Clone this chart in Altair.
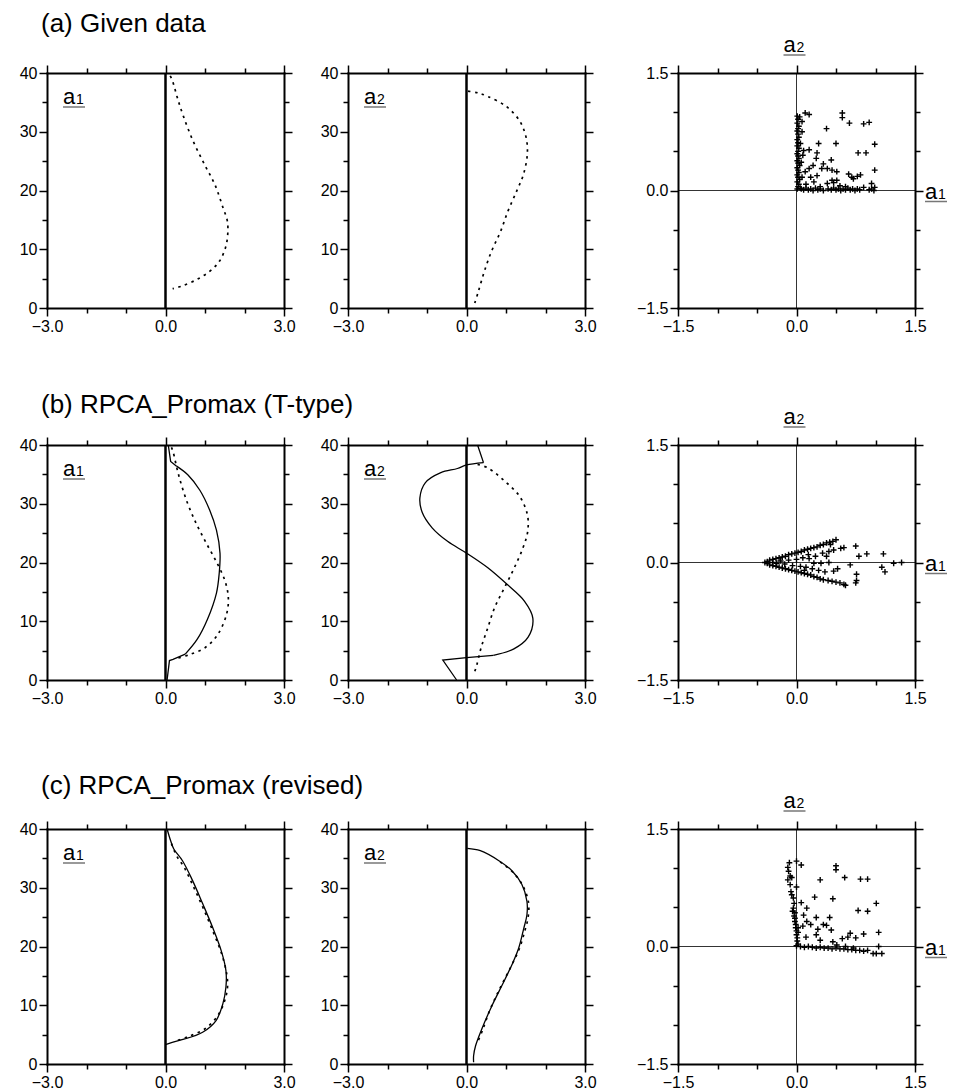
import altair as alt
import pandas as pd

FONT = "Liberation Sans"
W, H = 237, 235

# ---------------- vertical profiles (x = loading, y = level) ----------------
# (a) Given data
GIVEN_A1_X = [0.12, 0.18, 0.30, 0.45, 0.70, 0.99, 1.25, 1.46, 1.56, 1.58, 1.54, 1.37, 1.12, 0.78, 0.40, 0.18]
GIVEN_A1_Y = [39.5, 38.6, 35.8, 32.7, 28.4, 24.4, 21.0, 17.0, 15.0, 13.6, 10.8, 8.0, 6.25, 4.8, 3.7, 3.3]
GIVEN_A2_X = [0.04, 0.30, 0.54, 1.01, 1.35, 1.51, 1.54, 1.44, 1.27, 1.05, 0.86, 0.63, 0.45, 0.30, 0.21]
GIVEN_A2_Y = [36.9, 36.6, 36.0, 34.3, 31.8, 29.0, 26.2, 22.7, 19.9, 16.5, 13.0, 9.6, 6.2, 2.8, 0.85]

# (b) RPCA_Promax (T-type): solid = rotated, dotted = given
TT_A1_TOP_X = [0.07, 0.13, 0.28]
TT_A1_TOP_Y = [40.0, 37.2, 36.4]
TT_A1_MID_X = [0.28, 0.57, 0.87, 1.12, 1.29, 1.38, 1.36, 1.29, 1.06, 0.80, 0.50]
TT_A1_MID_Y = [36.4, 34.9, 32.3, 28.9, 25.5, 21.6, 18.2, 14.8, 10.3, 6.9, 4.4]
TT_A1_BOT_X = [0.50, 0.19, 0.10, 0.04]
TT_A1_BOT_Y = [4.4, 3.5, 3.3, 0.0]
TT_A1_DOT_X = [0.15, 0.19, 0.32, 0.53, 0.78, 1.04, 1.29, 1.50, 1.59, 1.55, 1.32, 1.00, 0.60, 0.30]
TT_A1_DOT_Y = [39.6, 38.9, 35.2, 30.6, 26.6, 23.2, 20.1, 17.0, 14.1, 11.3, 7.7, 5.5, 4.3, 3.7]

TT_A2_TOP_X = [0.28, 0.43]
TT_A2_TOP_Y = [40.0, 37.0]
TT_A2_MID_X = [0.43, 0.0, -0.23, -0.65, -1.04, -1.18, -1.12, -0.87, -0.48, 0.0, 0.54, 1.04, 1.47, 1.68, 1.56, 1.20, 0.68]
TT_A2_MID_Y = [37.0, 36.6, 36.0, 35.3, 33.6, 31.0, 28.5, 25.9, 23.6, 21.6, 19.1, 16.2, 13.4, 10.5, 7.3, 5.3, 4.2]
TT_A2_BOT_X = [0.68, 0.0, -0.60, -0.25]
TT_A2_BOT_Y = [4.2, 3.8, 3.4, 0.0]
TT_A2_DOT_X = [0.28, 0.54, 0.96, 1.34, 1.54, 1.55, 1.43, 1.21, 0.96, 0.71, 0.54, 0.37, 0.25, 0.18]
TT_A2_DOT_Y = [36.7, 36.1, 33.9, 31.3, 28.2, 25.3, 22.5, 19.1, 15.7, 12.3, 8.9, 5.5, 2.3, 0.9]

# (c) RPCA_Promax (revised)
RV_A1_X = [0.04, 0.13, 0.21, 0.43, 0.68, 0.94, 1.19, 1.41, 1.53, 1.53, 1.45, 1.28, 0.94, 0.51]
RV_A1_Y = [40.0, 38.0, 36.6, 34.6, 31.3, 27.3, 23.3, 19.3, 15.9, 13.1, 10.2, 7.4, 5.4, 4.3]
RV_A1_BOT_X = [0.51, 0.17, 0.0]
RV_A1_BOT_Y = [4.3, 3.7, 3.3]
RV_A1_DOT_X = [0.15, 0.30, 0.47, 0.70, 0.95, 1.20, 1.42, 1.55, 1.57, 1.49, 1.32, 1.00, 0.55, 0.20]
RV_A1_DOT_Y = [37.5, 35.2, 33.5, 30.3, 26.6, 22.6, 18.8, 15.3, 13.1, 10.6, 8.2, 6.0, 4.6, 3.8]

RV_A2_X = [0.02, 0.35, 0.82, 1.15, 1.40, 1.53, 1.53, 1.45, 1.32, 1.15, 0.90, 0.65, 0.39, 0.23, 0.18, 0.18]
RV_A2_Y = [36.7, 36.3, 34.6, 32.9, 30.6, 27.7, 25.4, 23.1, 19.7, 16.9, 13.4, 10.0, 6.0, 3.1, 1.4, 0.3]
RV_A2_DOT_X = [0.85, 1.18, 1.43, 1.57, 1.56, 1.47, 1.33, 1.12, 0.90, 0.74, 0.58, 0.42, 0.30]
RV_A2_DOT_Y = [34.4, 32.6, 30.3, 27.5, 25.0, 22.5, 19.5, 16.5, 13.6, 11.4, 9.0, 6.0, 4.0]

# ---------------- scatter of (a1, a2) ----------------
SC_GIVEN_X = [0.01, 0.02, 0.01, 0.03, 0.02, 0.01, 0.02, 0.03, 0.01, 0.02, 0.01, 0.03, 0.02, 0.01, 0.02,
              0.03, 0.01, 0.02, 0.04, 0.01, 0.02, 0.03, 0.01, 0.02, 0.04, 0.01, 0.03, 0.02, 0.05, 0.01,
              0.11, 0.16, 0.04, 0.58, 0.58, 0.67, 0.85, 0.92, 0.38, 0.07, 0.28, 0.50, 0.99, 0.09, 0.16,
              0.26, 0.78, 0.88, 0.25, 0.44, 0.34, 0.21, 0.16, 0.32, 0.39, 0.45, 0.51, 0.11, 0.07, 0.18,
              0.26, 0.66, 0.70, 0.77, 0.81, 0.99, 0.45, 0.51, 0.72, 0.22, 0.39, 0.55, 0.95, 0.06, 0.08,
              0.05, 0.07, 0.12, 0.30, 0.47, 0.62, 0.85,
              0.06, 0.09, 0.12, 0.15, 0.18, 0.21, 0.24, 0.27, 0.30, 0.34, 0.40, 0.44, 0.47, 0.50, 0.53,
              0.56, 0.59, 0.62, 0.65, 0.68, 0.71, 0.74, 0.77, 0.80, 0.92, 0.95, 0.98, 0.99]
SC_GIVEN_Y = [0.95, 0.91, 0.86, 0.82, 0.79, 0.76, 0.72, 0.68, 0.65, 0.61, 0.57, 0.54, 0.50, 0.47, 0.44,
              0.41, 0.38, 0.35, 0.32, 0.29, 0.26, 0.23, 0.20, 0.17, 0.14, 0.11, 0.08, 0.05, 0.03, 0.02,
              0.99, 0.97, 0.94, 0.99, 0.93, 0.86, 0.85, 0.87, 0.79, 0.75, 0.60, 0.60, 0.59, 0.51, 0.52,
              0.48, 0.48, 0.48, 0.41, 0.39, 0.34, 0.32, 0.28, 0.28, 0.28, 0.26, 0.24, 0.24, 0.17, 0.17,
              0.19, 0.21, 0.17, 0.18, 0.20, 0.26, 0.13, 0.13, 0.15, 0.11, 0.09, 0.06, 0.09, 0.36, 0.45,
              0.60, 0.88, 0.08, 0.05, 0.10, 0.05, 0.04,
              0.02, 0.01, 0.03, 0.01, 0.02, 0.00, 0.03, 0.01, 0.02, 0.00, 0.02, 0.01, 0.03, 0.01, 0.02,
              0.00, 0.02, 0.01, 0.03, 0.01, 0.02, 0.00, 0.02, 0.01, 0.01, 0.02, 0.00, 0.04]

SC_TTYPE_X = [-0.40, -0.37, -0.34, -0.30, -0.26, -0.22, -0.18, -0.14, -0.10, -0.06, -0.02, 0.02, 0.06, 0.10,
              0.14, 0.18, 0.22, 0.26, 0.30, 0.34, 0.38, 0.42, 0.46, 0.50,
              -0.37, -0.34, -0.30, -0.26, -0.22, -0.18, -0.14, -0.10, -0.06, -0.02, 0.02, 0.06, 0.10, 0.14,
              0.18, 0.22, 0.26, 0.30, 0.34, 0.40, 0.45, 0.50, 0.55, 0.60, 0.62, 0.75, 0.76,
              -0.30, -0.25, -0.20, -0.15, -0.10, -0.05, 0.00, 0.05, 0.08, 0.12, 0.16, 0.20, 0.22, 0.24,
              0.28, 0.31, 0.33, 0.36, 0.41, 0.41, 0.43, 0.47, 0.47, 0.56, 0.60, 0.68, 0.75, 0.76, 0.79,
              0.89, 1.08, 1.10, 1.12, 1.23, 1.33, 0.52, 0.38, 0.15, 0.10]
SC_TTYPE_Y = [0.00, 0.01, 0.03, 0.04, 0.05, 0.06, 0.07, 0.08, 0.10, 0.11, 0.12, 0.13, 0.14, 0.16,
              0.17, 0.18, 0.19, 0.20, 0.22, 0.23, 0.25, 0.26, 0.27, 0.29,
              -0.01, -0.03, -0.04, -0.05, -0.06, -0.07, -0.08, -0.09, -0.10, -0.11, -0.12, -0.13, -0.14, -0.15,
              -0.16, -0.18, -0.19, -0.21, -0.22, -0.23, -0.24, -0.25, -0.26, -0.28, -0.29, -0.26, -0.23,
              0.00, -0.01, 0.02, -0.02, 0.03, -0.04, 0.04, -0.05, 0.06, -0.06, 0.05, -0.08, -0.01, 0.08,
              -0.10, -0.01, 0.12, -0.12, 0.00, 0.14, 0.23, 0.16, -0.11, 0.18, 0.19, -0.03, 0.21, -0.15, 0.08,
              0.11, -0.06, 0.11, -0.12, -0.01, 0.00, -0.08, 0.08, 0.10, -0.10]

SC_REV_X = [-0.09, 0.00, 0.06, -0.11, -0.10, -0.08, -0.11, -0.06, -0.08, 0.00, -0.06, -0.04, -0.07, -0.04,
            -0.05, -0.02, -0.03, -0.02, -0.01, -0.01, 0.00, 0.00, 0.01, 0.01, 0.02, 0.00, -0.03, -0.02, 0.02,
            0.50, 0.50, 0.61, 0.30, 0.81, 0.90, 0.23, 0.46, 1.01, 0.78, 0.90, 0.13, 0.06, 0.25, 0.42,
            0.13, 0.34, 0.38, 0.08, 0.02, 0.44, 0.68, 0.75, 0.85, 1.04, 0.46, 0.51, 1.04, 0.18, 0.25,
            0.12, 0.30, 0.58, 0.65, 0.09, 0.27,
            0.05, 0.10, 0.15, 0.20, 0.25, 0.30, 0.35, 0.40, 0.45, 0.50, 0.55, 0.60, 0.65, 0.70, 0.75,
            0.80, 0.85, 0.90, 0.97, 1.01, 1.08, 0.62, 0.72]
SC_REV_Y = [1.07, 1.09, 1.04, 1.01, 0.96, 0.90, 0.85, 0.88, 0.79, 0.76, 0.66, 0.62, 0.70, 0.49,
            0.45, 0.43, 0.39, 0.32, 0.28, 0.24, 0.20, 0.15, 0.11, 0.07, 0.03, 0.01, 0.55, 0.36, 0.18,
            1.03, 0.98, 0.88, 0.85, 0.86, 0.86, 0.63, 0.61, 0.55, 0.46, 0.45, 0.49, 0.56, 0.37, 0.37,
            0.32, 0.28, 0.27, 0.26, 0.24, 0.21, 0.17, 0.11, 0.16, 0.18, 0.06, 0.02, 0.00, 0.28, 0.15,
            0.12, 0.08, 0.10, 0.12, 0.40, 0.22,
            0.00, -0.01, 0.00, -0.01, -0.02, -0.01, -0.02, -0.02, -0.03, -0.02, -0.03, -0.03, -0.04, -0.04, -0.05,
            -0.05, -0.06, -0.05, -0.09, -0.09, -0.09, 0.00, -0.02]

# ---------------- axes ----------------
PROF_X_TICKS = [-3, -2, -1, 0, 1, 2, 3]
PROF_Y_TICKS = [0, 5, 10, 15, 20, 25, 30, 35, 40]
SC_TICKS = [-1.5, -1.0, -0.5, 0.0, 0.5, 1.0, 1.5]

PX_MAJOR = "datum.value % 3 == 0"
PY_MAJOR = "datum.value % 10 == 0"
S_MAJOR = "datum.value == 0 || abs(datum.value) == 1.5"


def tick_size(test):
    return {"condition": {"test": test, "value": 8}, "value": 5}


def ax(orient, values, major, fmt_expr=None, offset=0):
    kw = dict(orient=orient, values=values, title=None, tickSize=tick_size(major),
              labelOverlap=False, labelFlush=False, offset=offset)
    if fmt_expr is None:
        kw["labels"] = False
    else:
        kw["labelExpr"] = f"{major} ? {fmt_expr} : ''"
    return alt.Axis(**kw)


one = pd.DataFrame({"k": [0]})


def txt(s, x, y, size):
    return alt.Chart(one).mark_text(text=s, font=FONT, fontSize=size, align="left",
                                    baseline="alphabetic", color="black").encode(
        x=alt.value(x), y=alt.value(y))


def uline(x1, x2, y):
    return alt.Chart(one).mark_rule(color="#777777", strokeWidth=1.5).encode(
        x=alt.value(x1), x2=alt.value(x2), y=alt.value(y))


def label(digit, x, y):
    return [txt("a", x, y, 22), txt(digit, x + 13, y, 14), uline(x, x + 22, y + 3)]


def profile(curves, digit, title=None, title_dy=-43, extra_w=0, extra_h=0):
    px = alt.Scale(domain=[-3, 3], range=[0, W], nice=False, zero=False)
    py = alt.Scale(domain=[0, 40], range=[H, 0], nice=False, zero=False)
    zero = alt.Chart(pd.DataFrame({"x": [0], "y0": [0], "y1": [40]})).mark_rule(
        color="black", strokeWidth=2.5).encode(
        x=alt.X("x:Q", scale=px, axis=ax("top", PROF_X_TICKS, PX_MAJOR)),
        y=alt.Y("y0:Q", scale=py, axis=ax("right", PROF_Y_TICKS, PY_MAJOR, offset=-extra_w)),
        y2="y1:Q",
    )
    layers = [zero]
    for k, (xs, ys, dotted, smooth) in enumerate(curves):
        df = pd.DataFrame({"x": xs, "y": ys, "i": list(range(len(xs)))})
        mk = dict(color="black", strokeWidth=1.3,
                  interpolate="catmull-rom" if smooth else "linear")
        if dotted:
            mk.update(strokeDash=[2.5, 4.5], strokeWidth=1.7)
        if k == 0:
            xa = ax("bottom", PROF_X_TICKS, PX_MAJOR, "format(datum.value, '.1f')", offset=-extra_h)
            ya = ax("left", PROF_Y_TICKS, PY_MAJOR, "datum.label")
        else:
            xa = None
            ya = None
        layers.append(alt.Chart(df).mark_line(**mk).encode(
            x=alt.X("x:Q", scale=px, axis=xa),
            y=alt.Y("y:Q", scale=py, axis=ya),
            order="i:Q",
        ))
    layers += label(digit, 16, 31)
    if title:
        layers.append(txt(title, -6, title_dy, 26))
    return alt.layer(*layers).properties(width=W + extra_w, height=H + extra_h).resolve_axis(
        x="independent", y="independent")


def scatter(xs, ys, extra_h=0):
    sx = alt.Scale(domain=[-1.5, 1.5], range=[0, W], nice=False, zero=False)
    sy = alt.Scale(domain=[-1.5, 1.5], range=[H, 0], nice=False, zero=False)
    df = pd.DataFrame({"a1": xs, "a2": ys})
    pts = alt.Chart(df).mark_point(shape="M-1,0L1,0M0,-1L0,1", size=34, filled=False,
                                   strokeWidth=1.4, color="black", opacity=1).encode(
        x=alt.X("a1:Q", scale=sx,
                axis=ax("bottom", SC_TICKS, S_MAJOR, "format(datum.value, '.1f')", offset=-extra_h)),
        y=alt.Y("a2:Q", scale=sy, axis=ax("left", SC_TICKS, S_MAJOR, "format(datum.value, '.1f')")),
    )
    vline = alt.Chart(pd.DataFrame({"x": [0], "lo": [-1.5], "hi": [1.5]})).mark_rule(
        color="black", strokeWidth=0.8).encode(
        x=alt.X("x:Q", scale=sx, axis=ax("top", SC_TICKS, S_MAJOR)),
        y=alt.Y("lo:Q", scale=sy, axis=None), y2="hi:Q")
    hline = alt.Chart(pd.DataFrame({"y": [0], "lo": [-1.5], "hi": [1.5]})).mark_rule(
        color="black", strokeWidth=0.8).encode(
        y=alt.Y("y:Q", scale=sy, axis=ax("right", SC_TICKS, S_MAJOR)),
        x=alt.X("lo:Q", scale=sx, axis=None), x2="hi:Q")
    layers = [vline, hline, pts]
    layers += label("2", W / 2 - 13, -21)
    layers += label("1", W + 10, H / 2 + 8)
    return alt.layer(*layers).properties(width=W, height=H + extra_h).resolve_axis(
        x="independent", y="independent")


EW = 29   # extra room right of the middle column
EH = 12   # extra room below the middle row

panels = [
    profile([(GIVEN_A1_X, GIVEN_A1_Y, True, True)], "1", "(a) Given data", -41),
    profile([(GIVEN_A2_X, GIVEN_A2_Y, True, True)], "2", extra_w=EW),
    scatter(SC_GIVEN_X, SC_GIVEN_Y),

    profile([(TT_A1_MID_X, TT_A1_MID_Y, False, True),
             (TT_A1_TOP_X, TT_A1_TOP_Y, False, False),
             (TT_A1_BOT_X, TT_A1_BOT_Y, False, False),
             (TT_A1_DOT_X, TT_A1_DOT_Y, True, True)], "1",
            "(b) RPCA_Promax (T-type)", -32, extra_h=EH),
    profile([(TT_A2_MID_X, TT_A2_MID_Y, False, True),
             (TT_A2_TOP_X, TT_A2_TOP_Y, False, False),
             (TT_A2_BOT_X, TT_A2_BOT_Y, False, False),
             (TT_A2_DOT_X, TT_A2_DOT_Y, True, True)], "2", extra_w=EW, extra_h=EH),
    scatter(SC_TTYPE_X, SC_TTYPE_Y, extra_h=EH),

    profile([(RV_A1_X, RV_A1_Y, False, True),
             (RV_A1_BOT_X, RV_A1_BOT_Y, False, False),
             (RV_A1_DOT_X, RV_A1_DOT_Y, True, True)], "1",
            "(c) RPCA_Promax (revised)", -35),
    profile([(RV_A2_X, RV_A2_Y, False, True),
             (RV_A2_DOT_X, RV_A2_DOT_Y, True, True)], "2", extra_w=EW),
    scatter(SC_REV_X, SC_REV_Y),
]

chart = alt.concat(
    *panels, columns=3, spacing={"row": 137, "column": 64}, bounds="flush"
).properties(
    padding={"left": 11, "top": 3, "right": 0, "bottom": 0}
).configure_axis(
    domain=True, domainColor="black", domainWidth=2, domainCap="square", grid=False,
    tickColor="black", tickWidth=1.5,
    labelFont=FONT, labelFontSize=16, labelColor="black", labelPadding=2,
).configure_view(stroke=None)

chart.save("out.html", embed_options={"renderer": "svg", "actions": False})
